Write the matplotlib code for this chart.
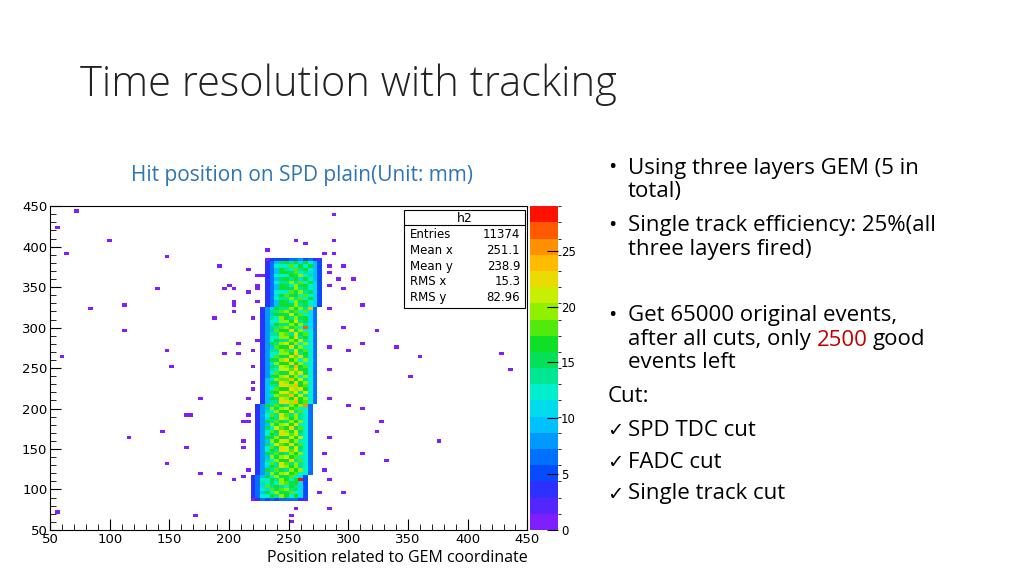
import matplotlib
matplotlib.use("Agg")
import matplotlib.pyplot as plt
import matplotlib.patches as patches
from matplotlib.colors import LinearSegmentedColormap, BoundaryNorm
import numpy as np

# --- data ---
bin_w = 4
x_lo, x_hi = 50, 450
y_lo, y_hi = 50, 450

# dense core: 10 bands of 30 mm from y=88 upward
core_y0, core_y1 = 88, 388
band_left = [220, 222, 224, 224, 226, 226, 228, 228, 230, 232]
band_level = [0.9, 1.0, 1.05, 1.0, 1.1, 1.05, 1.0, 0.95, 0.9, 0.85]
col_profile = [3, 8, 13, 16, 17, 18, 18, 18, 17, 16, 12, 6]
texture = [[1.0, 0.8, 1.15, 0.9, 1.1, 0.85, 1.2],
           [0.9, 1.2, 0.85, 1.1, 0.8, 1.15, 0.95],
           [1.15, 0.9, 1.05, 0.75, 1.2, 0.9, 1.1],
           [0.8, 1.1, 0.95, 1.25, 0.9, 1.05, 0.85],
           [1.1, 0.95, 1.2, 0.85, 1.0, 0.8, 1.15]]
hot_x = [262, 256, 262, 254, 258, 266, 250, 246]
hot_y = [300, 250, 205, 180, 112, 322, 262, 150]
hot_v = [27, 24, 25, 22, 28, 24, 22, 21]

out_x = [72, 287, 56, 100, 255, 263, 287, 232, 64, 148, 279, 287, 191, 216, 295, 283,
         224, 228, 291, 303, 283, 140, 199, 195, 203, 224, 224, 216, 295, 283, 203, 224,
         112, 203, 311, 84, 203, 188, 220, 283, 112, 295, 323, 208, 224, 311, 339, 283,
         148, 195, 208, 220, 299, 60, 359, 427, 152, 220, 283, 435, 351, 220, 220, 175,
         216, 283, 299, 311, 162, 166, 216, 210, 214, 328, 144, 116, 323, 375, 283, 212,
         163, 212, 311, 279, 332, 148, 175, 191, 216, 279, 203, 212, 283, 295, 275, 256,
         283, 56, 171, 252, 252]
out_y = [444, 441, 424, 408, 408, 404, 408, 397, 392, 388, 392, 392, 377, 373, 377, 377,
         365, 365, 361, 361, 369, 349, 353, 349, 349, 353, 349, 345, 349, 353, 333, 333,
         326, 326, 326, 322, 318, 313, 312, 322, 297, 301, 297, 281, 285, 281, 277, 277,
         273, 269, 269, 273, 273, 265, 265, 269, 252, 252, 249, 249, 241, 233, 225, 210,
         210, 213, 202, 198, 190, 190, 190, 182, 182, 182, 170, 162, 170, 158, 162, 158,
         150, 150, 145, 142, 137, 133, 121, 121, 125, 125, 113, 117, 113, 97, 97, 77,
         77, 73, 69, 69, 61]

# --- build histogram ---
nx = (x_hi - x_lo) // bin_w
ny = (y_hi - y_lo) // bin_w
H = np.zeros((ny, nx))
rows = list(range(core_y0, core_y1, bin_w))
for r, yy in enumerate(rows):
    b = min((yy - core_y0) // 30, 9)
    j = (yy - y_lo) // bin_w
    edge = 0.4 if r in (0, len(rows) - 1) else 1.0
    for c, v in enumerate(col_profile):
        i = (band_left[b] - x_lo) // bin_w + c
        t = texture[j % 5][i % 7]
        val = v * band_level[b] * edge * (t if 2 <= c <= 9 else 1.0)
        H[j, i] = max(1, round(val))
for x, y, v in zip(hot_x, hot_y, hot_v):
    H[(y - y_lo) // bin_w, (x - x_lo) // bin_w] = v
for x, y in zip(out_x, out_y):
    j, i = (y - y_lo) // bin_w, (x - x_lo) // bin_w
    if H[j, i] == 0:
        H[j, i] = 1
Hm = np.ma.masked_equal(H, 0)

colors = ["#7f1fff", "#3a28ff", "#0050ff", "#0090ff", "#00d0ff", "#00f0d0",
          "#00e070", "#10e020", "#80f000", "#d8f000", "#ffc000", "#ff8000", "#ff1000"]
cmap = LinearSegmentedColormap.from_list("root", colors)
levels = np.linspace(0, 29, 21)
norm = BoundaryNorm(levels, cmap.N)

fig = plt.figure(figsize=(10.24, 5.76), dpi=100)
fig.text(0.078, 0.852, "Time resolution with tracking", fontsize=30, family="Open Sans",
         fontweight="light", color="#222222", va="center")

ax = fig.add_axes([0.049, 0.080, 0.466, 0.562])
xe = np.arange(x_lo, x_hi + 1, bin_w)
ye = np.arange(y_lo, y_hi + 1, bin_w)
pm = ax.pcolormesh(xe, ye, Hm, cmap=cmap, norm=norm)
ax.set_xlim(x_lo, x_hi)
ax.set_ylim(y_lo, y_hi)
ax.set_xticks(range(50, 451, 50))
ax.set_yticks(range(50, 451, 50))
ax.set_xticks(range(50, 451, 10), minor=True)
ax.set_yticks(range(50, 451, 10), minor=True)
ax.tick_params(direction="in", labelsize=9.5, length=8, pad=2)
ax.tick_params(which="minor", direction="in", length=4)
for s in ax.spines.values():
    s.set_linewidth(0.8)

# stats box
box = patches.Rectangle((0.395, 0.465), 0.118, 0.170, transform=fig.transFigure,
                        facecolor="white", edgecolor="black", linewidth=0.8, zorder=5)
fig.add_artist(box)
fig.add_artist(plt.Line2D([0.395, 0.513], [0.609, 0.609], transform=fig.transFigure,
                          color="black", linewidth=0.8, zorder=6))
fig.text(0.454, 0.621, "h2", ha="center", va="center", fontsize=9, zorder=7)
stat_names = ["Entries", "Mean x", "Mean y", "RMS x", "RMS y"]
stat_vals = ["11374", "251.1", "238.9", "15.3", "82.96"]
for k, (n, v) in enumerate(zip(stat_names, stat_vals)):
    yy = 0.593 - k * 0.0275
    fig.text(0.400, yy, n, fontsize=8.5, va="center", zorder=7)
    fig.text(0.508, yy, v, fontsize=8.5, va="center", ha="right", zorder=7)

cax = fig.add_axes([0.518, 0.080, 0.027, 0.562])
cb = fig.colorbar(pm, cax=cax, ticks=[0, 5, 10, 15, 20, 25])
cb.outline.set_visible(False)
cax.tick_params(direction="in", length=8, labelsize=8.5, pad=2)

fig.text(0.295, 0.695, "Hit position on SPD plain(Unit: mm)", fontsize=15,
         color="#2e75b6", ha="center", va="center", family="Open Sans")
fig.text(0.388, 0.031, "Position related to GEM coordinate", fontsize=11.5,
         ha="center", va="center", family="Open Sans")

# right-hand bullet text
fs = 16
tx = 628 / 1024
bx = 608 / 1024

def py(p):
    return 1 - p / 576

def line(x, p, s, **kw):
    return fig.text(x, py(p), s, fontsize=fs, family="Open Sans", va="center", **kw)

line(bx, 167, "•")
line(tx, 168, "Using three layers GEM (5 in")
line(tx, 191, "total)")
line(bx, 225, "•")
line(tx, 226, "Single track efficiency: 25%(all")
line(tx, 249, "three layers fired)")
line(bx, 315, "•")
line(tx, 316, "Get 65000 original events,")
t = line(tx, 340, "after all cuts, only ")
fig.canvas.draw()
r = fig.canvas.get_renderer()
bb = t.get_window_extent(r).transformed(fig.transFigure.inverted())
t2 = line(bb.x1, 340, "2500", color="#c00000")
bb2 = t2.get_window_extent(r).transformed(fig.transFigure.inverted())
line(bb2.x1 + 0.005, 340, "good")
line(tx, 363, "events left")
line(608 / 1024, 397, "Cut:")
for k, s in enumerate(["SPD TDC cut", "FADC cut", "Single track cut"]):
    fig.text(607 / 1024, py(430 + k * 32), "\u2713", fontsize=14, family="DejaVu Sans", va="center")
    line(tx, 430 + k * 32, s)

fig.savefig("out.png", dpi=100)
